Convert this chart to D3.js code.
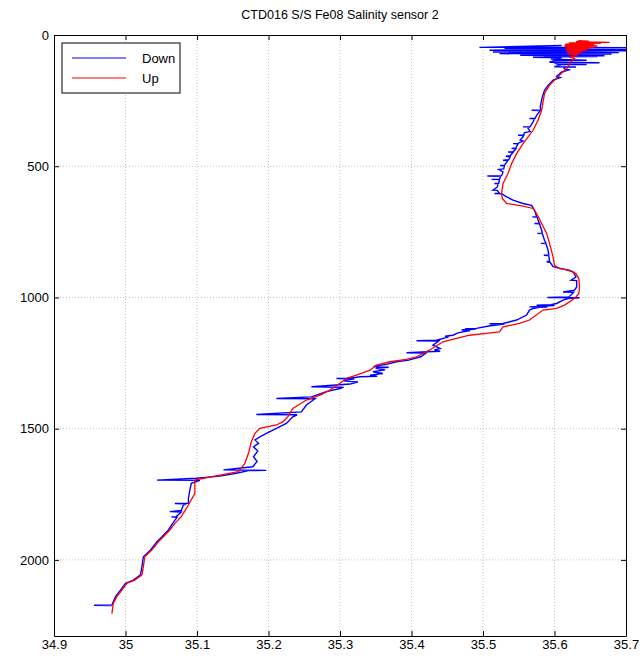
<!DOCTYPE html>
<html>
<head>
<meta charset="utf-8">
<script src="https://cdn.jsdelivr.net/npm/d3@7"></script>
<style>
  body { margin: 0; background: #fff; }
  svg { display: block; font-family: "Liberation Sans", Arial, sans-serif; }
  .axis text { font-size: 13px; fill: #000; }
  .axis path, .axis line { stroke: #000; }
  .grid line { stroke: #c4c4c4; stroke-dasharray: 1,2; }
</style>
</head>
<body>
<div id="svg-container"></div>
<script>
////////////////////////////////////////////////////////////////////
////////////////////////////  Data  ////////////////////////////////
const chartTitle = "CTD016 S/S Fe08 Salinity sensor 2";
const seriesNames = ["Down", "Up"];
const xTicks = [34.9, 35, 35.1, 35.2, 35.3, 35.4, 35.5, 35.6, 35.7];
const yTicks = [0, 500, 1000, 1500, 2000];

// [salinity, depth]
const downCast = [
  [35.61, 40], [35.495, 47], [35.64, 47.5], [35.705, 48], [35.58, 49], [35.60, 50],
  [35.53, 51], [35.64, 52], [35.55, 53], [35.705, 55], [35.57, 56], [35.509, 58],
  [35.60, 59], [35.705, 60], [35.58, 61], [35.55, 62], [35.62, 63], [35.514, 65],
  [35.60, 66], [35.69, 67], [35.57, 68], [35.60, 69], [35.523, 71], [35.61, 72],
  [35.68, 73], [35.575, 74], [35.60, 75], [35.552, 77], [35.62, 78], [35.67, 79],
  [35.585, 80], [35.59, 81], [35.66, 82], [35.60, 83], [35.57, 85], [35.61, 87],
  [35.595, 92], [35.645, 96], [35.60, 97], [35.593, 104], [35.663, 106], [35.60, 107],
  [35.605, 112], [35.645, 113], [35.61, 114], [35.60, 121], [35.63, 122], [35.612, 123],
  [35.615, 131], [35.622, 132], [35.610, 141], [35.603, 158], [35.608, 162], [35.598, 172],
  [35.591, 192], [35.586, 211], [35.583, 236], [35.580, 274], [35.581, 286],
  [35.568, 287], [35.580, 288], [35.575, 306], [35.573, 317], [35.565, 318],
  [35.572, 319], [35.570, 331], [35.566, 349], [35.556, 350], [35.565, 351],
  [35.563, 356], [35.566, 368], [35.558, 372], [35.557, 381], [35.549, 382],
  [35.557, 383], [35.556, 388], [35.552, 400], [35.556, 404], [35.549, 413],
  [35.542, 414], [35.549, 415], [35.546, 430], [35.540, 432], [35.546, 434],
  [35.542, 445], [35.535, 446], [35.542, 447], [35.538, 460], [35.532, 462],
  [35.538, 464], [35.536, 475], [35.528, 477], [35.535, 478], [35.530, 496],
  [35.524, 497], [35.530, 498], [35.529, 510], [35.522, 512], [35.528, 522],
  [35.526, 536], [35.506, 537], [35.525, 538], [35.523, 549], [35.512, 550],
  [35.523, 551], [35.522, 565], [35.516, 566], [35.521, 567], [35.520, 579],
  [35.514, 591], [35.520, 592], [35.523, 603], [35.516, 604], [35.526, 605],
  [35.533, 617], [35.542, 629], [35.556, 642], [35.568, 649], [35.572, 668],
  [35.575, 692], [35.569, 693], [35.576, 694], [35.577, 706], [35.579, 717],
  [35.572, 718], [35.579, 719], [35.582, 744], [35.583, 755], [35.576, 756],
  [35.583, 757], [35.586, 782], [35.588, 793], [35.581, 794], [35.588, 795],
  [35.591, 820], [35.592, 838], [35.585, 839], [35.592, 840], [35.593, 862],
  [35.589, 864], [35.594, 866], [35.598, 883], [35.614, 893], [35.626, 902],
  [35.630, 922], [35.623, 934], [35.631, 936], [35.631, 960], [35.628, 972],
  [35.612, 979], [35.627, 980], [35.623, 991], [35.620, 998], [35.590, 1000],
  [35.635, 1001], [35.619, 1004], [35.612, 1010], [35.603, 1023], [35.595, 1028],
  [35.575, 1030], [35.600, 1031], [35.565, 1036], [35.590, 1037], [35.579, 1038],
  [35.570, 1042], [35.565, 1048], [35.561, 1067], [35.547, 1086], [35.528, 1099],
  [35.509, 1100], [35.530, 1101], [35.510, 1108], [35.491, 1118], [35.475, 1119],
  [35.490, 1121], [35.477, 1122], [35.470, 1124], [35.482, 1126], [35.465, 1135],
  [35.458, 1144], [35.447, 1148], [35.452, 1150], [35.435, 1163], [35.407, 1165],
  [35.438, 1166], [35.430, 1182], [35.440, 1195], [35.432, 1200], [35.440, 1205],
  [35.423, 1207], [35.393, 1211], [35.420, 1212], [35.413, 1226], [35.396, 1239],
  [35.379, 1245], [35.365, 1255], [35.347, 1263], [35.368, 1266], [35.350, 1270],
  [35.363, 1276], [35.346, 1283], [35.360, 1290], [35.342, 1296], [35.352, 1300],
  [35.328, 1302], [35.314, 1308], [35.295, 1309], [35.320, 1310], [35.305, 1318],
  [35.325, 1322], [35.314, 1330], [35.260, 1340], [35.305, 1342], [35.300, 1347],
  [35.281, 1359], [35.260, 1379], [35.211, 1385], [35.265, 1386], [35.253, 1410],
  [35.246, 1436], [35.183, 1446], [35.240, 1447], [35.234, 1455], [35.225, 1480],
  [35.211, 1499], [35.197, 1518], [35.188, 1531], [35.181, 1543], [35.186, 1556],
  [35.179, 1569], [35.185, 1585], [35.179, 1607], [35.184, 1625], [35.178, 1645],
  [35.137, 1657], [35.197, 1659], [35.172, 1660], [35.155, 1670], [35.132, 1681],
  [35.099, 1689], [35.044, 1696], [35.104, 1697], [35.092, 1708], [35.090, 1734],
  [35.088, 1765], [35.088, 1784], [35.069, 1785], [35.085, 1787], [35.081, 1791],
  [35.078, 1812], [35.062, 1816], [35.078, 1818], [35.071, 1835], [35.064, 1836],
  [35.072, 1838], [35.066, 1861], [35.060, 1886], [35.051, 1912], [35.044, 1931],
  [35.035, 1962], [35.025, 1988], [35.023, 2026], [35.021, 2057], [35.011, 2077],
  [35.000, 2089], [34.993, 2115], [34.986, 2140], [34.982, 2165], [34.981, 2172],
  [34.956, 2173], [34.981, 2174]
];

const upCast = [
  [35.633, 22], [35.648, 23], [35.630, 25], [35.677, 28], [35.620, 30], [35.665, 32],
  [35.615, 35], [35.656, 37], [35.614, 40], [35.660, 42], [35.614, 45], [35.655, 47],
  [35.615, 50], [35.650, 52], [35.616, 55], [35.645, 58], [35.617, 61], [35.640, 64],
  [35.618, 67], [35.635, 70], [35.620, 74], [35.632, 78], [35.622, 84], [35.628, 90],
  [35.623, 103], [35.619, 122], [35.607, 153], [35.593, 192], [35.586, 223],
  [35.582, 287], [35.577, 325], [35.570, 363], [35.556, 414], [35.547, 452],
  [35.540, 490], [35.535, 528], [35.528, 566], [35.526, 604], [35.527, 623],
  [35.533, 642], [35.556, 652], [35.570, 661], [35.575, 680], [35.582, 718],
  [35.589, 756], [35.593, 794], [35.598, 845], [35.600, 877], [35.607, 890],
  [35.621, 896], [35.630, 909], [35.634, 928], [35.635, 960], [35.634, 985],
  [35.630, 998], [35.621, 1017], [35.614, 1029], [35.603, 1042], [35.584, 1048],
  [35.565, 1086], [35.551, 1099], [35.528, 1112], [35.523, 1131], [35.505, 1137],
  [35.481, 1144], [35.463, 1156], [35.444, 1169], [35.425, 1201], [35.407, 1226],
  [35.393, 1236], [35.370, 1245], [35.351, 1258], [35.342, 1277], [35.323, 1296],
  [35.309, 1308], [35.300, 1327], [35.286, 1353], [35.272, 1372], [35.253, 1391],
  [35.234, 1423], [35.227, 1455], [35.220, 1474], [35.211, 1486], [35.188, 1499],
  [35.181, 1518], [35.176, 1550], [35.172, 1594], [35.167, 1632], [35.158, 1664],
  [35.132, 1677], [35.109, 1689], [35.097, 1696], [35.097, 1746], [35.088, 1791],
  [35.078, 1835], [35.069, 1861], [35.062, 1886], [35.053, 1912], [35.046, 1931],
  [35.037, 1962], [35.027, 1988], [35.025, 2026], [35.023, 2057], [35.013, 2077],
  [35.002, 2089], [34.995, 2115], [34.988, 2140], [34.983, 2165], [34.982, 2184],
  [34.981, 2205]
];

const seriesColors = ["#0000ff", "#ff0000"];

////////////////////////////////////////////////////////////////////
////////////////////////////  Init  ////////////////////////////////
const width = 643;
const height = 662;
const margin = { top: 35, right: 17, bottom: 26, left: 54 };

const svg = d3
  .select("#svg-container")
  .append("svg")
  .attr("width", width)
  .attr("height", height);

// scales
const xScale = d3
  .scaleLinear()
  .domain([34.9, 35.7])
  .range([margin.left, width - margin.right]);

const yScale = d3
  .scaleLinear()
  .domain([0, 2290])
  .range([margin.top, height - margin.bottom]);

const x0 = margin.left;
const x1 = width - margin.right;
const y0 = margin.top;
const y1 = height - margin.bottom;

// grid
svg
  .append("g")
  .attr("class", "grid")
  .selectAll("line")
  .data(xTicks.slice(1, -1))
  .join("line")
  .attr("x1", (d) => xScale(d))
  .attr("x2", (d) => xScale(d))
  .attr("y1", y0)
  .attr("y2", y1);

svg
  .append("g")
  .attr("class", "grid")
  .selectAll("line")
  .data(yTicks.slice(1))
  .join("line")
  .attr("x1", x0)
  .attr("x2", x1)
  .attr("y1", (d) => yScale(d))
  .attr("y2", (d) => yScale(d));

// profiles
svg
  .append("clipPath")
  .attr("id", "plot-clip")
  .append("rect")
  .attr("x", x0)
  .attr("y", y0)
  .attr("width", x1 - x0)
  .attr("height", y1 - y0);

const line = d3
  .line()
  .x((d) => xScale(d[0]))
  .y((d) => yScale(d[1]));

const plotG = svg.append("g").attr("clip-path", "url(#plot-clip)");

plotG
  .append("path")
  .datum(downCast)
  .attr("fill", "none")
  .attr("stroke", seriesColors[0])
  .attr("stroke-width", 1.4)
  .attr("d", line);

plotG
  .append("path")
  .datum(upCast)
  .attr("fill", "none")
  .attr("stroke", seriesColors[1])
  .attr("stroke-width", 1.3)
  .attr("d", line);

// axes (ticks inside, all four sides)
svg
  .append("g")
  .attr("class", "axis")
  .attr("transform", `translate(0, ${y1})`)
  .call(
    d3.axisBottom(xScale).tickValues(xTicks).tickSize(-5).tickSizeOuter(0)
      .tickPadding(4).tickFormat(d3.format("~g"))
  );

svg
  .append("g")
  .attr("class", "axis")
  .attr("transform", `translate(0, ${y0})`)
  .call(
    d3.axisTop(xScale).tickValues(xTicks).tickSize(-5).tickSizeOuter(0)
      .tickFormat("")
  );

svg
  .append("g")
  .attr("class", "axis")
  .attr("transform", `translate(${x0}, 0)`)
  .call(
    d3.axisLeft(yScale).tickValues(yTicks).tickSize(-5).tickSizeOuter(0)
      .tickPadding(5).tickFormat(d3.format("d"))
  );

svg
  .append("g")
  .attr("class", "axis")
  .attr("transform", `translate(${x1}, 0)`)
  .call(
    d3.axisRight(yScale).tickValues(yTicks).tickSize(-5).tickSizeOuter(0)
      .tickFormat("")
  );

svg.selectAll(".axis .domain").attr("stroke-width", 1);

// title
svg
  .append("text")
  .attr("x", (x0 + x1) / 2)
  .attr("y", 19)
  .attr("text-anchor", "middle")
  .style("font-size", "12.5px")
  .text(chartTitle);

// legend
const legend = svg.append("g").attr("transform", "translate(62, 43)");

legend
  .append("rect")
  .attr("width", 118)
  .attr("height", 50)
  .attr("fill", "#fff")
  .attr("stroke", "#000")
  .attr("stroke-width", 1);

seriesNames.forEach((name, i) => {
  legend
    .append("line")
    .attr("x1", 10)
    .attr("x2", 64)
    .attr("y1", 15 + i * 20)
    .attr("y2", 15 + i * 20)
    .attr("stroke", seriesColors[i])
    .attr("stroke-width", 1.2);

  legend
    .append("text")
    .attr("x", 80)
    .attr("y", 20 + i * 20)
    .style("font-size", "13px")
    .text(name);
});
</script>
</body>
</html>
